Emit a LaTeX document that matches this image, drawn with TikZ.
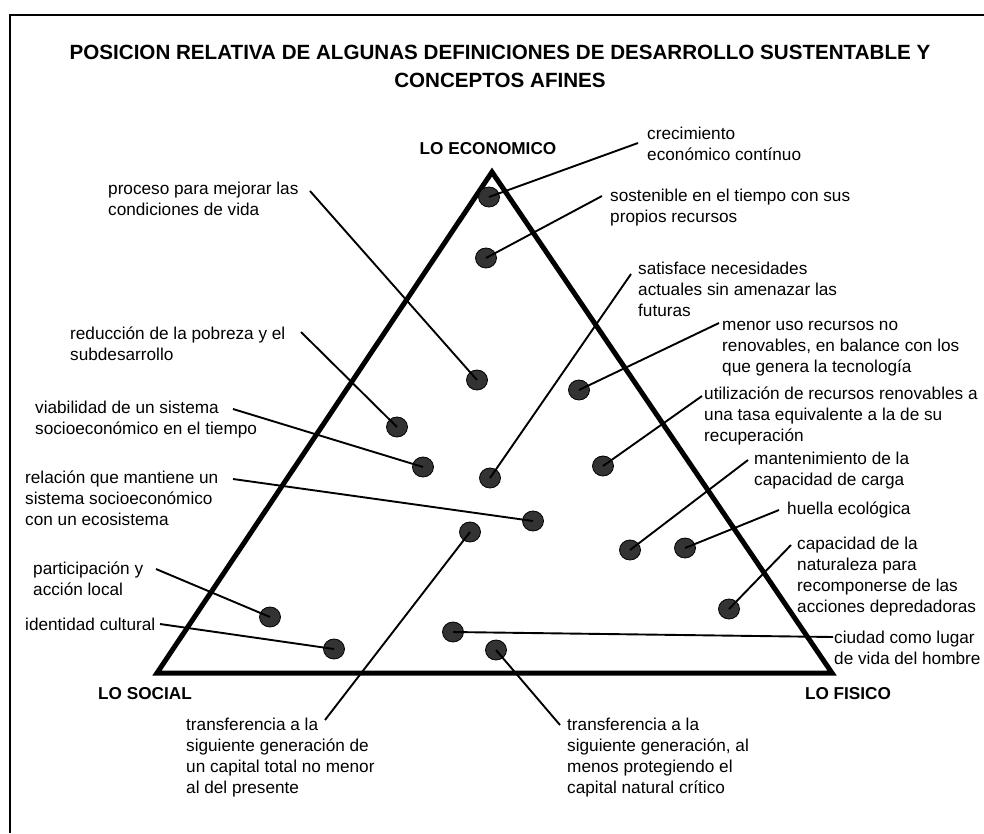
\documentclass[tikz,border=0pt]{standalone}
\usepackage{fontspec}
\setmainfont{Liberation Sans}
\usetikzlibrary{shapes.geometric}
\tikzset{
	punto/.style={ellipse, draw=black, line width=0.8pt, fill=black!80, minimum width=21pt, minimum height=20pt, inner sep=0pt},
	texto/.style={anchor=base west, align=left, inner sep=0pt, font=\fontsize{17.2}{21.2}\selectfont},
	vertice/.style={anchor=base, inner sep=0pt, font=\bfseries\fontsize{17.2}{21.2}\selectfont},
	linea/.style={line width=1.9pt}
}

\begin{document}
\begin{tikzpicture}[x=1pt, y=-1pt]
			\useasboundingbox (0,0) rectangle (984,833);
			%%%%% START %%%%%
			% textos de varias lineas: la base es la de la ultima linea
			
			\draw[line width=2.5pt] (10,833) -- (10,15) -- (984,15);
			
			\node[anchor=base, align=center, inner sep=0pt, font=\bfseries\fontsize{20.6}{28}\selectfont] (titulo) at (500,87) {POSICION RELATIVA DE ALGUNAS DEFINICIONES DE DESARROLLO SUSTENTABLE Y\\CONCEPTOS AFINES};
			
			\draw[line width=5pt, line join=miter] (492,172) -- (157,673) -- (832,673) -- cycle;
			
			\node[vertice] (economico) at (488,154) {LO ECONOMICO};
			\node[vertice] (social) at (145,699) {LO SOCIAL};
			\node[vertice] (fisico) at (848,699) {LO FISICO};
			
			\node[punto] (crec) at (489,197) {};
			\node[texto] (crec-txt) at (647,160.2) {crecimiento\\económico contínuo};
			\coordinate (crec-fin) at (638,143);
			\draw[linea] (crec-fin) -- (crec.center);
			
			\node[punto] (sost) at (486,258) {};
			\node[texto] (sost-txt) at (610,222.2) {sostenible en el tiempo con sus\\propios recursos};
			\coordinate (sost-fin) at (602,196);
			\draw[linea] (sost-fin) -- (sost.center);
			
			\node[punto] (proc) at (477,380) {};
			\node[texto] (proc-txt) at (108,215.2) {proceso para mejorar las\\condiciones de vida};
			\coordinate (proc-fin) at (310,191);
			\draw[linea] (proc-fin) -- (proc.center);
			
			\node[punto] (redu) at (397,427) {};
			\node[texto] (redu-txt) at (70,360.2) {reducción de la pobreza y el\\subdesarrollo};
			\coordinate (redu-fin) at (301,332);
			\draw[linea] (redu-fin) -- (redu.center);
			
			\node[punto] (viab) at (423,467) {};
			\node[texto] (viab-txt) at (35,434.2) {viabilidad de un sistema\\socioeconómico en el tiempo};
			\coordinate (viab-fin) at (233,409);
			\draw[linea] (viab-fin) -- (viab.center);
			
			\node[punto] (rela) at (533,521) {};
			\node[texto] (rela-txt) at (25,525.4) {relación que mantiene un\\sistema socioeconómico\\con un ecosistema};
			\coordinate (rela-fin) at (233,479);
			\draw[linea] (rela-fin) -- (rela.center);
			
			\node[punto] (part) at (270,617) {};
			\node[texto] (part-txt) at (33,595.2) {participación y\\acción local};
			\coordinate (part-fin) at (156,569);
			\draw[linea] (part-fin) -- (part.center);
			
			\node[punto] (iden) at (334,649) {};
			\node[texto] (iden-txt) at (25,630) {identidad cultural};
			\coordinate (iden-fin) at (160,624);
			\draw[linea] (iden-fin) -- (iden.center);
			
			\node[punto] (trat) at (470,532) {};
			\node[texto] (trat-txt) at (186,793.6) {transferencia a la\\siguiente generación de\\un capital total no menor\\al del presente};
			\coordinate (trat-fin) at (325,720);
			\draw[linea] (trat-fin) -- (trat.center);
			
			\node[punto] (tran) at (496,650) {};
			\node[texto] (tran-txt) at (567,793.6) {transferencia a la\\siguiente generación, al\\menos protegiendo el\\capital natural crítico};
			\coordinate (tran-fin) at (560,725);
			\draw[linea] (tran-fin) -- (tran.center);
			
			\node[punto] (ciud) at (453,632) {};
			\node[texto] (ciud-txt) at (834,664.2) {ciudad como lugar\\de vida del hombre};
			\coordinate (ciud-fin) at (833,637);
			\draw[linea] (ciud-fin) -- (ciud.center);
			
			\node[punto] (capa) at (729,609) {};
			\node[texto] (capa-txt) at (797,612.6) {capacidad de la\\naturaleza para\\recomponerse de las\\acciones depredadoras};
			\coordinate (capa-fin) at (791,545);
			\draw[linea] (capa-fin) -- (capa.center);
			
			\node[punto] (huel) at (685,548) {};
			\node[texto] (huel-txt) at (787,514) {huella ecológica};
			\coordinate (huel-fin) at (779,510);
			\draw[linea] (huel-fin) -- (huel.center);
			
			\node[punto] (mant) at (630,550) {};
			\node[texto] (mant-txt) at (754,485.2) {mantenimiento de la\\capacidad de carga};
			\coordinate (mant-fin) at (748,460);
			\draw[linea] (mant-fin) -- (mant.center);
			
			\node[punto] (util) at (603,466) {};
			\node[texto] (util-txt) at (704,441.4) {utilización de recursos renovables a\\una tasa equivalente a la de su\\recuperación};
			\coordinate (util-fin) at (702,396);
			\draw[linea] (util-fin) -- (util.center);
			
			\node[punto] (meno) at (579,390) {};
			\node[texto] (meno-txt) at (722,372.4) {menor uso recursos no\\renovables, en balance con los\\que genera la tecnología};
			\coordinate (meno-fin) at (719,323);
			\draw[linea] (meno-fin) -- (meno.center);
			
			\node[punto] (sati) at (490,478) {};
			\node[texto] (sati-txt) at (638,316.4) {satisface necesidades\\actuales sin amenazar las\\futuras};
			\coordinate (sati-fin) at (631,274);
			\draw[linea] (sati-fin) -- (sati.center);
			
			%%%%% END %%%%%
\end{tikzpicture}
\end{document}
